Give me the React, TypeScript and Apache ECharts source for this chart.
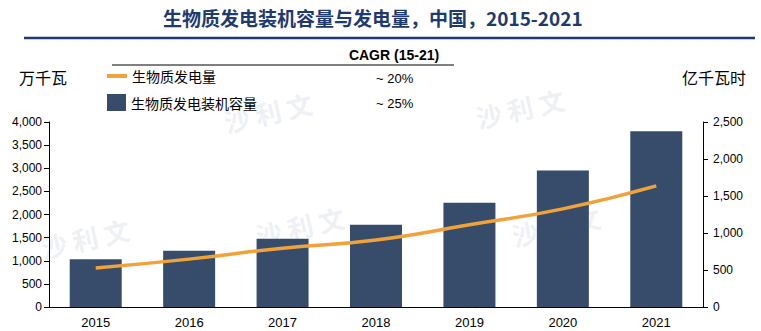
import React, { useEffect, useRef } from "react";
import * as echarts from "echarts";

const years = ["2015", "2016", "2017", "2018", "2019", "2020", "2021"];
const capacity = [1031, 1214, 1476, 1781, 2254, 2952, 3798]; // 万千瓦
const generation = [527, 647, 795, 906, 1111, 1326, 1637]; // 亿千瓦时
const lineName = "生物质发电量";
const barName = "生物质发电装机容量";
const cagrLine = "~ 20%";
const cagrBar = "~ 25%";
const titleText = "生物质发电装机容量与发电量，中国，2015-2021";

const CJK = "'Noto Sans CJK SC', 'Liberation Sans', sans-serif";
const NUM = "'Liberation Sans', Arial, sans-serif";

const watermarks = [
  [268, 112], [520, 108],
  [85, 238], [300, 226], [556, 226],
];

export default function App() {
  const ref = useRef<HTMLDivElement>(null);
  useEffect(() => {
    const chart = echarts.init(ref.current!, null, { renderer: "svg" });
    const fmt = (v: number) => v.toLocaleString("en-US");
    chart.setOption({
      animation: false,
      backgroundColor: "#fff",
      title: {
        text: titleText,
        left: 163,
        top: 8,
        padding: 0,
        textStyle: { fontSize: 19, fontWeight: "bold", color: "#1F3A6E", fontFamily: CJK },
      },
      legend: [
        {
          left: 107,
          top: 69,
          padding: 0,
          icon: "rect",
          itemWidth: 20,
          itemHeight: 4,
          data: [lineName],
          selectedMode: false,
          textStyle: { fontSize: 14, color: "#000", fontFamily: CJK },
        },
        {
          left: 107,
          top: 94,
          padding: 0,
          icon: "rect",
          itemWidth: 19,
          itemHeight: 17,
          data: [barName],
          selectedMode: false,
          textStyle: { fontSize: 14, color: "#000", fontFamily: CJK },
        },
      ],
      grid: { left: 49, right: 58, top: 122, bottom: 24, containLabel: false },
      xAxis: {
        type: "category",
        data: years,
        axisLine: { lineStyle: { color: "#000", width: 1 } },
        axisTick: { show: false },
        axisLabel: { color: "#000", fontSize: 13, fontFamily: NUM, margin: 9 },
      },
      yAxis: [
        {
          type: "value",
          min: 0,
          max: 4000,
          interval: 500,
          position: "left",
          axisLine: { show: true, lineStyle: { color: "#000" } },
          axisTick: { show: true, length: 5, lineStyle: { color: "#000" } },
          splitLine: { show: false },
          axisLabel: { color: "#000", fontSize: 12, fontFamily: NUM, margin: 7, formatter: fmt },
        },
        {
          type: "value",
          min: 0,
          max: 2500,
          interval: 500,
          position: "right",
          axisLine: { show: true, lineStyle: { color: "#000" } },
          axisTick: { show: true, length: 5, lineStyle: { color: "#000" } },
          splitLine: { show: false },
          axisLabel: { color: "#000", fontSize: 12, fontFamily: NUM, margin: 10, formatter: fmt },
        },
      ],
      series: [
        {
          name: barName,
          type: "bar",
          data: capacity,
          yAxisIndex: 0,
          barWidth: 52,
          itemStyle: { color: "#374C6B" },
          z: 2,
        },
        {
          name: lineName,
          type: "line",
          data: generation,
          yAxisIndex: 1,
          smooth: true,
          symbol: "none",
          lineStyle: { color: "#F0A23B", width: 3.5 },
          itemStyle: { color: "#F0A23B" },
          z: 3,
        },
      ],
      graphic: [
        ...watermarks.map(([x, y]) => ({
          type: "text",
          x,
          y,
          rotation: 0.22,
          z: -1,
          silent: true,
          style: {
            text: "沙 利 文",
            fontSize: 26,
            fontWeight: "bold",
            fontFamily: CJK,
            fill: "rgba(205,212,224,0.35)",
            align: "center",
            verticalAlign: "middle",
          },
        })),
        {
          type: "line",
          shape: { x1: 24, y1: 38, x2: 755, y2: 38 },
          style: { stroke: "#1F3A6E", lineWidth: 2.5 },
        },
        {
          type: "text",
          x: 394,
          y: 55,
          style: {
            text: "CAGR (15-21)",
            fontSize: 14,
            fontWeight: "bold",
            fontFamily: NUM,
            fill: "#000",
            align: "center",
            verticalAlign: "middle",
          },
        },
        {
          type: "line",
          shape: { x1: 112, y1: 65, x2: 454, y2: 65 },
          style: { stroke: "#000", lineWidth: 1 },
        },
        {
          type: "text",
          x: 19,
          y: 77,
          style: { text: "万千瓦", fontSize: 16, fontFamily: CJK, fill: "#000", verticalAlign: "middle" },
        },
        {
          type: "text",
          x: 682,
          y: 77,
          style: { text: "亿千瓦时", fontSize: 16, fontFamily: CJK, fill: "#000", verticalAlign: "middle" },
        },
        {
          type: "text",
          x: 376,
          y: 78,
          style: { text: cagrLine, fontSize: 13, fontFamily: NUM, fill: "#000", verticalAlign: "middle" },
        },
        {
          type: "text",
          x: 376,
          y: 103,
          style: { text: cagrBar, fontSize: 13, fontFamily: NUM, fill: "#000", verticalAlign: "middle" },
        },
      ],
    });
    return () => chart.dispose();
  }, []);
  return (
    <div
      ref={ref}
      style={{ position: "fixed", left: 0, top: 0, width: 761, height: 331 }}
    />
  );
}
